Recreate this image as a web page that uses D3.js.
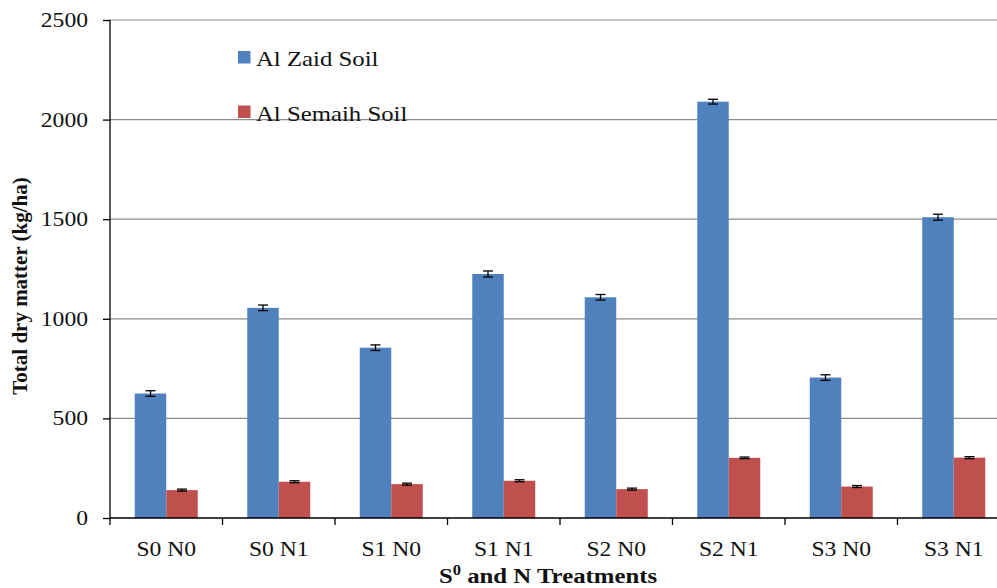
<!DOCTYPE html>
<html>
<head>
<meta charset="utf-8">
<script src="https://cdn.jsdelivr.net/npm/d3@7"></script>
<style>
  body { margin: 0; background: #fff; overflow: hidden; }
</style>
</head>
<body>
<script>
var treatments = ["S0 N0", "S0 N1", "S1 N0", "S1 N1", "S2 N0", "S2 N1", "S3 N0", "S3 N1"];
var seriesNames = ["Al Zaid Soil", "Al Semaih Soil"];
var zaidValues = [625, 1055, 855, 1225, 1108, 2090, 705, 1510];
var zaidErrors = [14, 14, 14, 15, 14, 12, 14, 15];
var semaihValues = [140, 182, 170, 187, 145, 302, 158, 303];
var semaihErrors = [5, 5, 5, 5, 5, 4, 5, 5];
var yTicks = [0, 500, 1000, 1500, 2000, 2500];

var colors = ["#4F81BD", "#C0504D"];
var serif = "'Liberation Serif', 'Times New Roman', Times, 'DejaVu Serif', serif";
var sx = 1.18; // the original picture is a bit stretched sideways

var margin = { left: 110, right: -13, top: 20, bottom: 70 };
var width = 997 - margin.left - margin.right;
var height = 588 - margin.top - margin.bottom;

// put a text at (x, y) but squeeze/stretch it horizontally
function stretch(sel, x, y) {
    return sel.attr("x", x / sx).attr("y", y).attr("transform", `scale(${sx},1)`);
}

var svg = d3.select("body").append("svg")
    .attr("width", 997)
    .attr("height", 588)
    .attr("font-family", serif);

var g = svg.append("g")
    .attr("transform", `translate(${margin.left}, ${margin.top})`);

var x = d3.scaleBand()
    .domain(treatments)
    .range([0, width])
    .paddingInner(0.44)
    .paddingOuter(0.22);

var x1 = d3.scaleBand()
    .domain(seriesNames)
    .range([0, x.bandwidth()]);

var y = d3.scaleLinear()
    .domain([0, 2500])
    .range([height, 0]);

// gridlines
g.selectAll(".grid")
    .data(yTicks.filter(d => d > 0))
    .enter()
    .append("line")
    .attr("x1", 0)
    .attr("x2", width)
    .attr("y1", d => y(d))
    .attr("y2", d => y(d))
    .attr("stroke", "#8c8c8c")
    .attr("stroke-width", 1.2);

var data = treatments.map((t, i) => ({
    name: t,
    vals: [
        { s: seriesNames[0], v: zaidValues[i], e: zaidErrors[i], c: colors[0] },
        { s: seriesNames[1], v: semaihValues[i], e: semaihErrors[i], c: colors[1] }
    ]
}));

var groups = g.selectAll(".grp")
    .data(data)
    .enter()
    .append("g")
    .attr("transform", d => `translate(${x(d.name)}, 0)`);

groups.selectAll("rect")
    .data(d => d.vals)
    .enter()
    .append("rect")
    .attr("x", d => x1(d.s))
    .attr("y", d => y(d.v))
    .attr("width", x1.bandwidth())
    .attr("height", d => height - y(d.v))
    .attr("fill", d => d.c);

// error bars
var eb = groups.selectAll(".err")
    .data(d => d.vals)
    .enter()
    .append("g")
    .attr("stroke", "#000")
    .attr("stroke-width", 1.3);
eb.append("line")
    .attr("x1", d => x1(d.s) + x1.bandwidth() / 2)
    .attr("x2", d => x1(d.s) + x1.bandwidth() / 2)
    .attr("y1", d => y(d.v + d.e))
    .attr("y2", d => y(d.v - d.e));
eb.append("line")
    .attr("x1", d => x1(d.s) + x1.bandwidth() / 2 - 5)
    .attr("x2", d => x1(d.s) + x1.bandwidth() / 2 + 5)
    .attr("y1", d => y(d.v + d.e))
    .attr("y2", d => y(d.v + d.e));
eb.append("line")
    .attr("x1", d => x1(d.s) + x1.bandwidth() / 2 - 5)
    .attr("x2", d => x1(d.s) + x1.bandwidth() / 2 + 5)
    .attr("y1", d => y(d.v - d.e))
    .attr("y2", d => y(d.v - d.e));

// y axis
var yAxisCall = d3.axisLeft(y)
    .tickValues(yTicks)
    .tickFormat(d3.format("d"))
    .tickSize(7)
    .tickPadding(15);
var yAxis = g.append("g")
    .attr("class", "y-axis")
    .call(yAxisCall)
    .attr("font-family", serif)
    .attr("font-size", 20);
yAxis.select(".domain").attr("stroke", "#000").attr("stroke-width", 1.3).attr("d", `M0,${height}V0`);
yAxis.selectAll(".tick line").attr("stroke", "#000").attr("stroke-width", 1.3);
yAxis.selectAll(".tick text")
    .attr("fill", "#111")
    .attr("x", -22 / sx)
    .attr("transform", `scale(${sx},1)`);

// x axis
var xTickPos = treatments.map((t, i) => i * x.step()).concat([width]);
var xAxis = g.append("g")
    .attr("transform", `translate(0, ${height})`);
xAxis.append("line")
    .attr("x1", 0).attr("x2", width)
    .attr("stroke", "#000").attr("stroke-width", 1.3);
xAxis.selectAll(".xt")
    .data(xTickPos)
    .enter()
    .append("line")
    .attr("x1", d => d).attr("x2", d => d)
    .attr("y1", 0).attr("y2", 7)
    .attr("stroke", "#000").attr("stroke-width", 1.3);
xAxis.selectAll(".xl")
    .data(treatments)
    .enter()
    .append("text")
    .attr("x", d => (x(d) + x.bandwidth() / 2) / sx)
    .attr("y", 38)
    .attr("transform", `scale(${sx},1)`)
    .attr("text-anchor", "middle")
    .attr("font-size", 20)
    .attr("fill", "#111")
    .text(d => d);

// axis titles
var xt = stretch(svg.append("text"), 548, 583)
    .attr("text-anchor", "middle")
    .attr("font-size", 21)
    .attr("font-weight", "bold")
    .attr("fill", "#111");
xt.append("tspan").text("S");
xt.append("tspan").attr("font-size", 14).attr("dy", -8).text("0");
xt.append("tspan").attr("dy", 8).text(" and N Treatments");

svg.append("text")
    .attr("transform", "translate(27, 286) rotate(-90)")
    .attr("text-anchor", "middle")
    .attr("font-size", 21)
    .attr("font-weight", "bold")
    .attr("fill", "#111")
    .text("Total dry matter (kg/ha)");

// legend
var legend = svg.selectAll(".leg")
    .data(seriesNames)
    .enter()
    .append("g")
    .attr("transform", (d, i) => `translate(238, ${51 + i * 54.5})`);
legend.append("rect")
    .attr("width", 12.5)
    .attr("height", 12.5)
    .attr("fill", (d, i) => colors[i]);
stretch(legend.append("text"), 18, 15)
    .attr("font-size", 21)
    .attr("fill", "#111")
    .text(d => d);
</script>
</body>
</html>
